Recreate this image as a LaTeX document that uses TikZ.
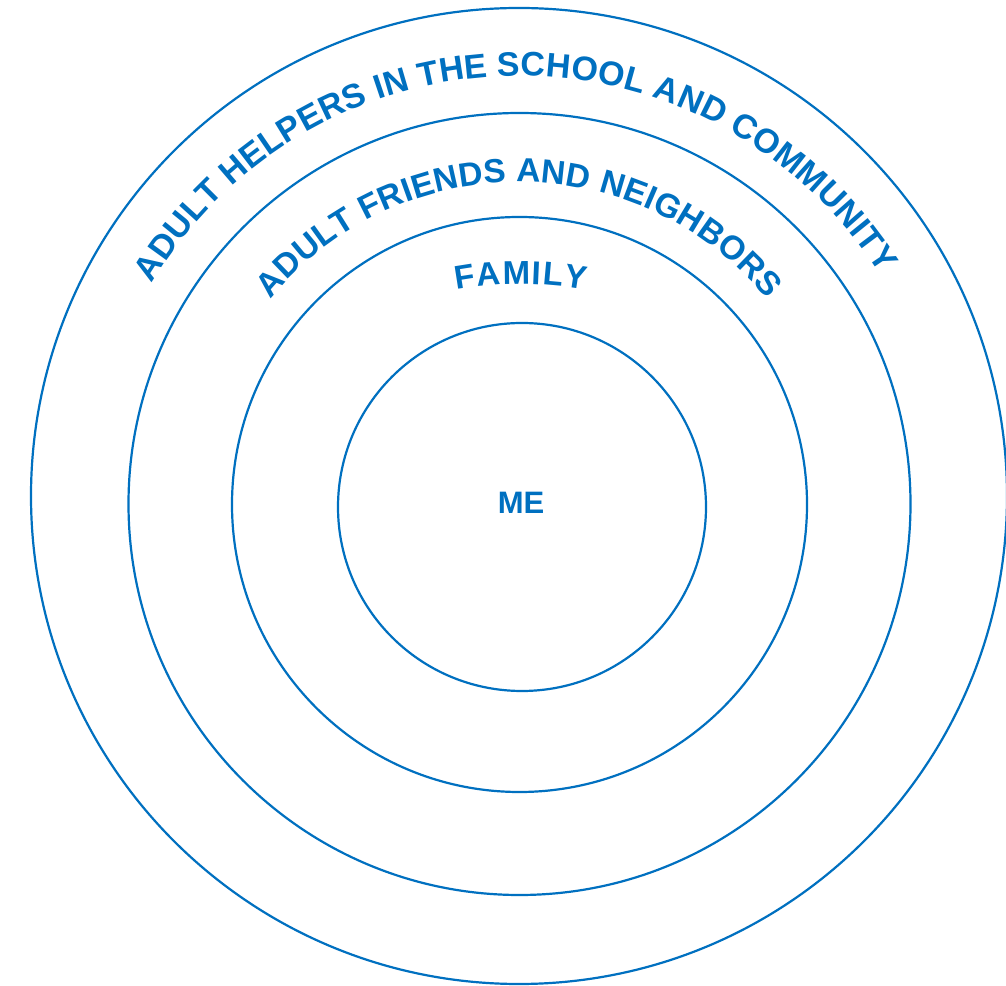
\documentclass[tikz,border=0pt]{standalone}
\usepackage{fontspec}
\setmainfont{Liberation Sans}
\usetikzlibrary{decorations.text}
\definecolor{ringblue}{RGB}{0,112,192}
\begin{document}
\begin{tikzpicture}[x=1pt,y=1pt,
  ring/.style={draw=ringblue, line width=2.2pt, circle, inner sep=0pt, outer sep=0pt},
  arctext/.style={decorate, decoration={text along path, text align=fit to path, text color=ringblue,
    text={|\bfseries\fontsize{#1}{#1}\selectfont|\arctextcontent}}}]
\useasboundingbox (0,0) rectangle (1006,985);
\fill[white] (0,0) rectangle (1006,985);
\node[ring, minimum size=976pt] (outer) at (519,489) {};
\node[ring, minimum size=782pt] (neigh) at (519.5,481) {};
\node[ring, minimum size=575pt] (family) at (519.5,480.5) {};
\node[ring, minimum size=368pt] (inner) at (522,478) {};
\node[text=ringblue, font=\bfseries\fontsize{31}{31}\selectfont] (me) at (521,482) {ME};
\coordinate (tc) at (519,481);
\coordinate (fc) at (521,351);
\def\arctextcontent{ADULT HELPERS IN THE SCHOOL AND COMMUNITY}
\path[arctext=34] (tc) ++(149:428) arc[start angle=149, end angle=32.5, radius=428];
\def\arctextcontent{ADULT FRIENDS AND NEIGHBORS}
\path[arctext=33.5] (tc) ++(140.5:322) arc[start angle=140.5, end angle=39.5, radius=322];
\def\arctextcontent{FAMILY}
\path[arctext=33] (fc) ++(100.6:350) arc[start angle=100.6, end angle=79.4, radius=350];
\end{tikzpicture}
\end{document}
